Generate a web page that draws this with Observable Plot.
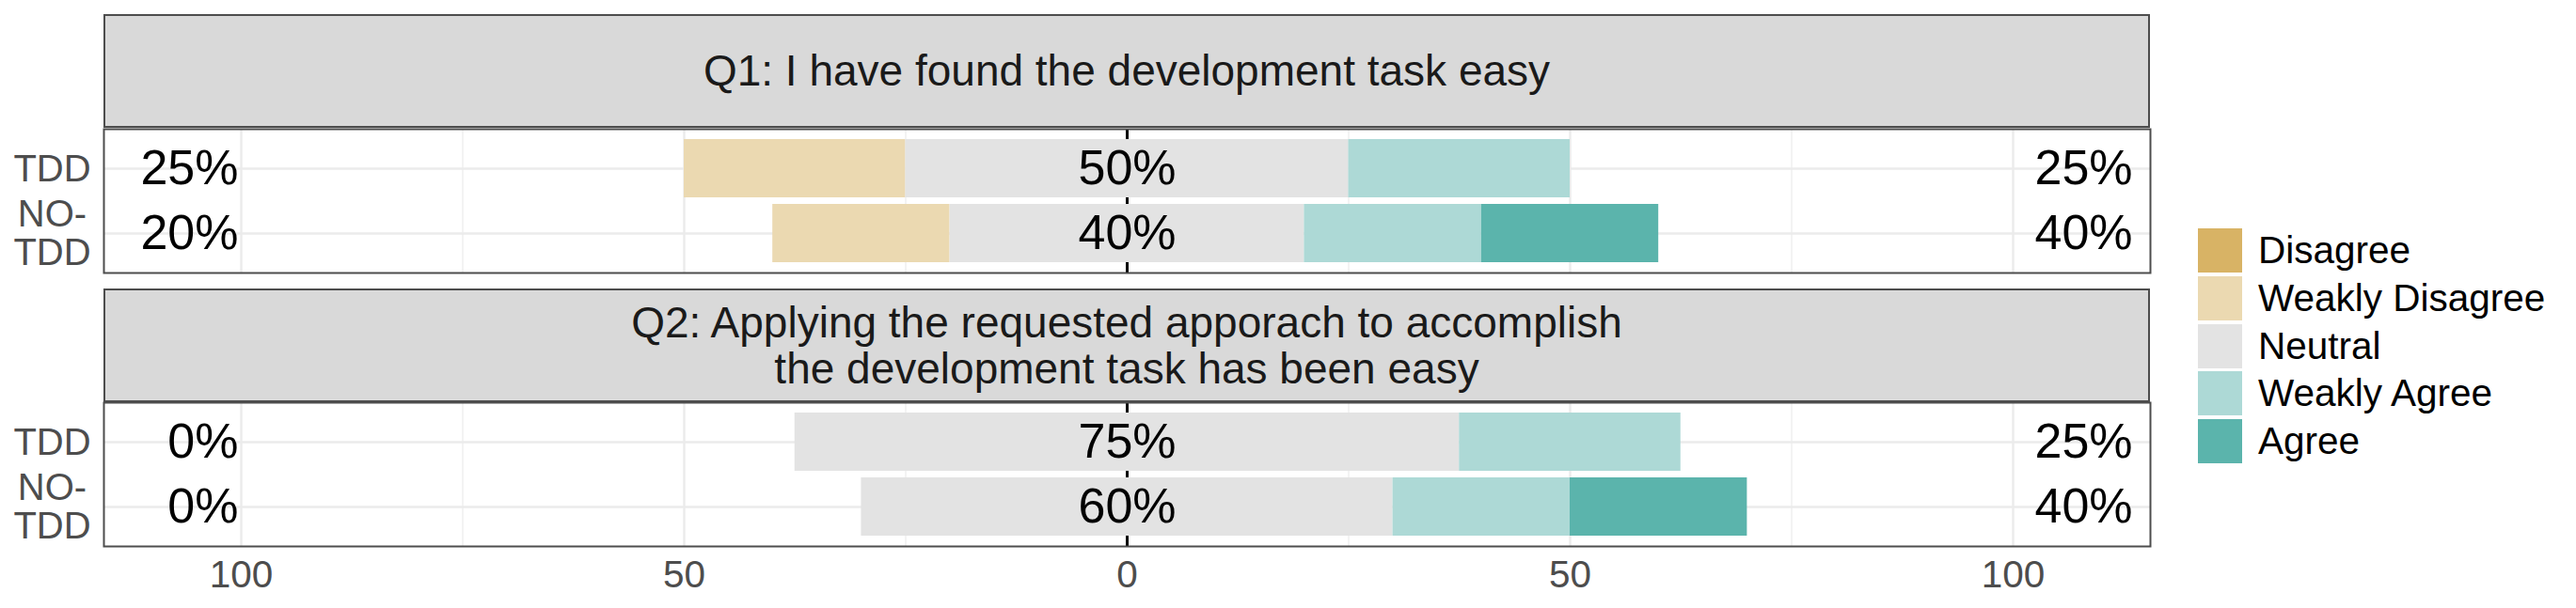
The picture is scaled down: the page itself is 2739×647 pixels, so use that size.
<!DOCTYPE html>
<html>
<head>
<meta charset="utf-8">
<script src="https://cdn.jsdelivr.net/npm/d3@7"></script>
<script src="https://cdn.jsdelivr.net/npm/@observablehq/plot@0.6"></script>
<style>
  html, body { margin: 0; padding: 0; background: #fff; }
  #wrap { position: relative; width: 2739px; height: 647px; font-family: "Liberation Sans", Arial, sans-serif; }
  #wrap svg { position: absolute; left: 0; top: 0; }
  .strip { position: absolute; box-sizing: border-box; background: #d9d9d9; border: 2px solid #4d4d4d;
           display: flex; align-items: center; justify-content: center; text-align: center;
           font-size: 46px; line-height: 49px; color: #1a1a1a; white-space: pre-line; }
  .legend { position: absolute; left: 2337px; top: 243px; }
  .legend .item { display: flex; align-items: center; height: 47px; margin-bottom: 3.75px; }
  .legend .key { width: 47px; height: 47px; }
  .legend .lab { margin-left: 17px; font-size: 40.5px; color: #000; white-space: nowrap; }
</style>
</head>
<body>
<div id="wrap"></div>
<script>
// ---- data ----
const questionIds = ["Q1", "Q2"];
const questionTitles = [
  "Q1: I have found the development task easy",
  "Q2: Applying the requested apporach to accomplish\nthe development task has been easy"
];
const groups = ["TDD", "NO-TDD"];
const groupLabels = ["TDD", "NO-\nTDD"];
const levels = ["Disagree", "Weakly Disagree", "Neutral", "Weakly Agree", "Agree"];
const levelColors = ["#d8b365", "#ebd9b1", "#e3e3e3", "#add9d6", "#5bb4ac"];
const q1TDD   = [0, 25, 50, 25, 0];
const q1NoTDD = [0, 20, 40, 20, 20];
const q2TDD   = [0, 0, 75, 25, 0];
const q2NoTDD = [0, 0, 60, 20, 20];
const majorTicks = [-100, -50, 0, 50, 100];
const minorTicks = [-75, -25, 25, 75];

// ---- derived table ----
const series = [
  {q: "Q1", g: "TDD", v: q1TDD},
  {q: "Q1", g: "NO-TDD", v: q1NoTDD},
  {q: "Q2", g: "TDD", v: q2TDD},
  {q: "Q2", g: "NO-TDD", v: q2NoTDD}
];
const bars = [];
const labels = [];
for (const s of series) {
  let start = -(s.v[0] + s.v[1] + s.v[2] / 2);
  s.v.forEach((val, i) => {
    if (val > 0) bars.push({q: s.q, g: s.g, level: levels[i], x1: start, x2: start + val});
    start += val;
  });
  labels.push({q: s.q, g: s.g, left: s.v[0] + s.v[1], mid: s.v[2], right: s.v[3] + s.v[4]});
}
const rows = [];
for (const q of questionIds) for (let i = 0; i < groups.length; i++) rows.push({q, g: groups[i], lab: groupLabels[i]});

const font = "Liberation Sans, Arial, sans-serif";

const chart = Plot.plot({
  width: 2300,
  height: 647,
  marginLeft: 110,
  marginRight: 14,
  marginTop: 136,
  marginBottom: 65,
  style: {fontFamily: font, background: "transparent"},
  x: {domain: [-115.5, 115.5]},
  y: {domain: groups, axis: null, paddingInner: 0.1, paddingOuter: 0.15},
  fy: {domain: questionIds, axis: null, paddingInner: 0.4726, paddingOuter: 0},
  color: {domain: levels, range: levelColors},
  marks: [
    Plot.ruleX(minorTicks, {stroke: "#ebebeb", strokeWidth: 1.2}),
    Plot.ruleX(majorTicks.filter(d => d !== 0), {stroke: "#ebebeb", strokeWidth: 2.4}),
    Plot.ruleY(rows, {y: "g", fy: "q", stroke: "#ebebeb", strokeWidth: 2.6}),
    Plot.ruleX([0], {stroke: "#000", strokeWidth: 3}),
    Plot.barX(bars, {x1: "x1", x2: "x2", y: "g", fy: "q", fill: "level"}),
    Plot.ruleX(rows, {x: () => 0, y: "g", fy: "q", stroke: "#b5b5b5", strokeWidth: 1}),
    Plot.text(labels, {x: () => -100, y: "g", fy: "q", text: d => d.left + "%", textAnchor: "end", dx: -3, fontSize: 52, fill: "#000"}),
    Plot.text(labels, {x: () => 0, y: "g", fy: "q", text: d => d.mid + "%", textAnchor: "middle", fontSize: 52, fill: "#000"}),
    Plot.text(labels, {x: () => 100, y: "g", fy: "q", text: d => d.right + "%", textAnchor: "start", dx: 23, fontSize: 52, fill: "#000"}),
    Plot.text(rows, {y: "g", fy: "q", text: "lab", frameAnchor: "left", dx: -55, textAnchor: "middle", fontSize: 40, lineHeight: 1.03, fill: "#4d4d4d"}),
    Plot.frame({stroke: "#4d4d4d", strokeWidth: 2}),
    Plot.axisX({ticks: majorTicks, tickFormat: d => Math.abs(d), tickSize: 0, tickPadding: 15, fontSize: 40.5, fill: "#4d4d4d", label: null})
  ]
});

const wrap = document.getElementById("wrap");
wrap.appendChild(chart);

// strips
const stripTops = [15, 307];
questionTitles.forEach((t, i) => {
  const d = document.createElement("div");
  d.className = "strip";
  d.style.left = "110px";
  d.style.top = stripTops[i] + "px";
  d.style.width = "2176px";
  d.style.height = "121px";
  d.textContent = t;
  wrap.appendChild(d);
});

// legend
const lg = document.createElement("div");
lg.className = "legend";
levels.forEach((l, i) => {
  const it = document.createElement("div");
  it.className = "item";
  const k = document.createElement("div");
  k.className = "key";
  k.style.background = levelColors[i];
  const s = document.createElement("span");
  s.className = "lab";
  s.textContent = l;
  it.appendChild(k); it.appendChild(s);
  lg.appendChild(it);
});
wrap.appendChild(lg);
</script>
</body>
</html>
